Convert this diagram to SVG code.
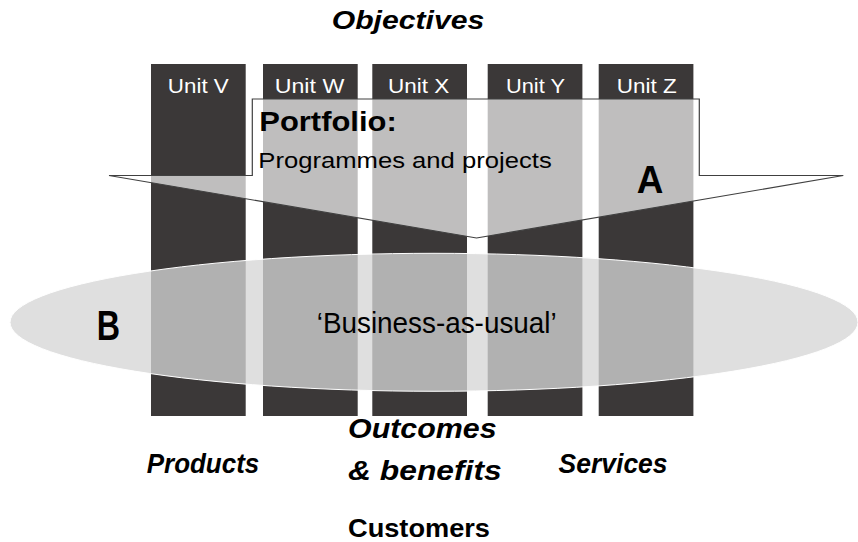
<svg xmlns="http://www.w3.org/2000/svg" width="858" height="542" viewBox="0 0 858 542">
<style>
.col{fill:#3b3838}
.unit{font-family:"Liberation Sans",Arial,sans-serif;font-size:20.5px;fill:#ffffff;text-anchor:middle}
.t{font-family:"Liberation Sans",Arial,sans-serif;fill:#000000}
.bi{font-weight:bold;font-style:italic}
.b{font-weight:bold}
</style>
<rect width="858" height="542" fill="#ffffff"/>
<g id="unit-v"><rect class="col" x="151" y="64" width="94.7" height="352"/><text class="unit" x="198.3" y="92.7" textLength="61" lengthAdjust="spacingAndGlyphs">Unit V</text></g>
<g id="unit-w"><rect class="col" x="263" y="64" width="94.7" height="352"/><text class="unit" x="309.5" y="92.7" textLength="69.6" lengthAdjust="spacingAndGlyphs">Unit W</text></g>
<g id="unit-x"><rect class="col" x="372.3" y="64" width="94.7" height="352"/><text class="unit" x="418.7" y="92.7" textLength="61.3" lengthAdjust="spacingAndGlyphs">Unit X</text></g>
<g id="unit-y"><rect class="col" x="487.7" y="64" width="94.7" height="352"/><text class="unit" x="535.5" y="92.7" textLength="59" lengthAdjust="spacingAndGlyphs">Unit Y</text></g>
<g id="unit-z"><rect class="col" x="598.7" y="64" width="94.7" height="352"/><text class="unit" x="646.7" y="92.7" textLength="60" lengthAdjust="spacingAndGlyphs">Unit Z</text></g>
<g id="connectors"></g>
<g id="portfolio-arrow">
<polygon points="252.3,99 699.3,99 699.3,175.5 843.3,175.5 476.5,238 109,175.5 252.3,175.5" fill="#ffffff" fill-opacity="0.673" stroke="#404040" stroke-width="1.2" stroke-linejoin="miter"/>
<text class="t b" x="259.3" y="131" font-size="28" textLength="137.4" lengthAdjust="spacingAndGlyphs">Portfolio:</text>
<text class="t" x="258.3" y="167.7" font-size="22.5" textLength="293.4" lengthAdjust="spacingAndGlyphs">Programmes and projects</text>
<text class="t b" x="650" y="193.3" font-size="39" text-anchor="middle" textLength="26.6" lengthAdjust="spacingAndGlyphs">A</text>
</g>
<g id="bau-ellipse">
<ellipse cx="434" cy="322.3" rx="424" ry="69" fill="#d6d6d6" fill-opacity="0.77" stroke="#ffffff" stroke-width="1"/>
<text class="t b" x="108.3" y="340" font-size="42" text-anchor="middle" textLength="23.3" lengthAdjust="spacingAndGlyphs">B</text>
<text class="t" x="316.7" y="333.3" font-size="29" textLength="240" lengthAdjust="spacingAndGlyphs">‘Business-as-usual’</text>
</g>
<g id="labels">
<text class="t bi" x="331.7" y="29" font-size="26.5" textLength="152.6" lengthAdjust="spacingAndGlyphs">Objectives</text>
<text class="t bi" x="146.7" y="472.7" font-size="28" textLength="112.6" lengthAdjust="spacingAndGlyphs">Products</text>
<text class="t bi" x="348" y="438.3" font-size="28" textLength="148.7" lengthAdjust="spacingAndGlyphs">Outcomes</text>
<text class="t bi" x="348" y="480" font-size="28" textLength="153.7" lengthAdjust="spacingAndGlyphs">&amp; benefits</text>
<text class="t bi" x="558.6" y="472.7" font-size="28" textLength="109" lengthAdjust="spacingAndGlyphs">Services</text>
<text class="t b" x="348" y="536.7" font-size="26" textLength="142" lengthAdjust="spacingAndGlyphs">Customers</text>
</g>
</svg>
